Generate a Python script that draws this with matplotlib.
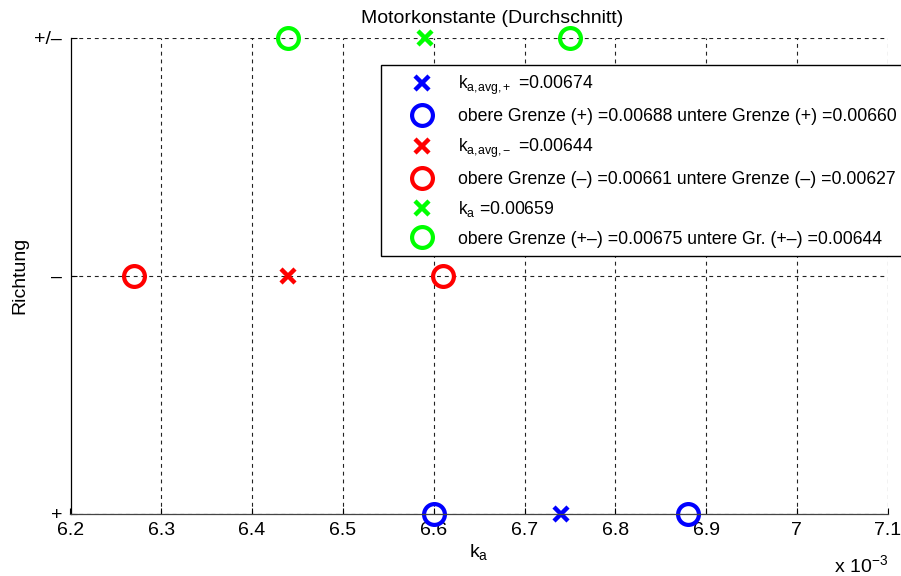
import matplotlib
matplotlib.use("Agg")
from matplotlib import pyplot as plt
import numpy as np

plt.rcParams['font.family'] = ['Liberation Sans', 'DejaVu Sans']
plt.rcParams['mathtext.default'] = 'regular'

# direction levels on the y axis
richtung = [1, 2, 3]
richtung_labels = ['+', '\u2013', '+/\u2013']

# motor constant, positive direction
ka_avg_plus = 0.00674
ka_plus_upper = 0.00688
ka_plus_lower = 0.00660

# motor constant, negative direction
ka_avg_minus = 0.00644
ka_minus_upper = 0.00661
ka_minus_lower = 0.00627

# motor constant, both directions
ka_all = 0.00659
ka_all_upper = 0.00675
ka_all_lower = 0.00644

xticks = [0.0062, 0.0063, 0.0064, 0.0065, 0.0066, 0.0067, 0.0068, 0.0069, 0.0070, 0.0071]
xtick_labels = ['6.2', '6.3', '6.4', '6.5', '6.6', '6.7', '6.8', '6.9', '7', '7.1']

W, H = 901, 576
fig = plt.figure(figsize=(W / 100, H / 100), dpi=100)
ax = fig.add_axes([70.5 / W, 1 - 513.5 / H, 817.2 / W, 475.5 / H])

xkw = dict(linestyle='none', marker='x', markersize=10, markeredgewidth=3.2)
okw = dict(linestyle='none', marker='o', markersize=15, markeredgewidth=3.0,
           markerfacecolor='none')

ax.plot([ka_avg_plus], [richtung[0]], color='#0000ff', clip_on=False,
        label='k$_{a{,}avg{,}+}$ =%.5f' % ka_avg_plus, **xkw)
ax.plot([ka_plus_upper, ka_plus_lower], [richtung[0]] * 2, color='#0000ff', clip_on=False,
        label='obere Grenze (+) =%.5f untere Grenze (+) =%.5f' % (ka_plus_upper, ka_plus_lower),
        **okw)
ax.plot([ka_avg_minus], [richtung[1]], color='#ff0000', clip_on=False,
        label='k$_{a{,}avg{,}\u2212}$ =%.5f' % ka_avg_minus, **xkw)
ax.plot([ka_minus_upper, ka_minus_lower], [richtung[1]] * 2, color='#ff0000', clip_on=False,
        label='obere Grenze (\u2013) =%.5f untere Grenze (\u2013) =%.5f' % (ka_minus_upper, ka_minus_lower),
        **okw)
ax.plot([ka_all], [richtung[2]], color='#00ff00', clip_on=False,
        label='k$_a$ =%.5f' % ka_all, **xkw)
ax.plot([ka_all_upper, ka_all_lower], [richtung[2]] * 2, color='#00ff00', clip_on=False,
        label='obere Grenze (+\u2013) =%.5f untere Gr. (+\u2013) =%.5f' % (ka_all_upper, ka_all_lower),
        **okw)

ax.set_xlim(0.0062, 0.0071)
ax.set_ylim(1, 3)
ax.set_xticks(xticks)
ax.set_xticklabels(xtick_labels)
ax.set_yticks(richtung)
ax.set_yticklabels(richtung_labels)
ax.tick_params(direction='in', length=4, width=0.8, labelsize=14, pad=6)

ax.grid(True, color='#222222', linestyle=(0, (3.5, 3.5)), linewidth=0.8)
ax.set_axisbelow(True)
for s in ['top', 'right']:
    ax.spines[s].set_visible(False)
ax.spines['left'].set_linewidth(0.9)
ax.spines['bottom'].set_linewidth(0.9)
ax.spines['bottom'].set_color('#444444')

ax.set_title('Motorkonstante (Durchschnitt)', fontsize=14, pad=11, x=0.516)
ax.set_xlabel('k$_a$', fontsize=14, labelpad=2)
fig.text(20 / W, 1 - 275 / H, 'Richtung', fontsize=14, rotation=90,
         ha='center', va='center')
fig.text(888 / W, 1 - 572 / H, 'x 10$^{-3}$', fontsize=14, ha='right', va='baseline')

leg = ax.legend(loc='upper left', bbox_to_anchor=(381 / W, 1 - 65 / H),
                bbox_transform=fig.transFigure, borderaxespad=0, numpoints=1,
                fontsize=12.7, frameon=True, fancybox=False, framealpha=1,
                edgecolor='black', handlelength=3.66, handletextpad=0.2,
                labelspacing=0.64, borderpad=0.5)
leg.get_frame().set_linewidth(1.0)

fig.savefig('out.png', dpi=100)
